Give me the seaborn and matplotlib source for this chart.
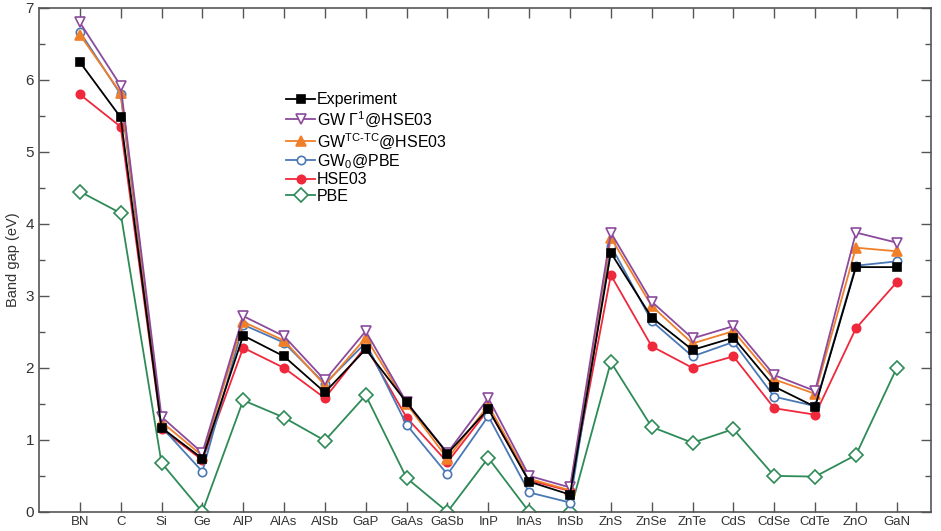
import matplotlib
matplotlib.use('Agg')
import matplotlib.pyplot as plt
import seaborn as sns
from matplotlib.ticker import MultipleLocator

materials = ['BN', 'C', 'Si', 'Ge', 'AlP', 'AlAs', 'AlSb', 'GaP', 'GaAs', 'GaSb', 'InP',
             'InAs', 'InSb', 'ZnS', 'ZnSe', 'ZnTe', 'CdS', 'CdSe', 'CdTe', 'ZnO', 'GaN']

experiment = [6.25, 5.48, 1.17, 0.74, 2.45, 2.16, 1.66, 2.26, 1.52, 0.81, 1.43,
              0.42, 0.24, 3.60, 2.70, 2.25, 2.42, 1.74, 1.46, 3.40, 3.40]
gw_gamma = [6.80, 5.92, 1.32, 0.82, 2.72, 2.44, 1.83, 2.51, 1.52, 0.82, 1.58,
            0.50, 0.34, 3.88, 2.92, 2.41, 2.58, 1.90, 1.68, 3.88, 3.74]
gw_tctc = [6.63, 5.82, 1.25, 0.78, 2.64, 2.38, 1.76, 2.42, 1.50, 0.74, 1.48,
           0.46, 0.30, 3.81, 2.86, 2.34, 2.51, 1.84, 1.64, 3.67, 3.62]
gw0_pbe = [6.67, 5.80, 1.18, 0.56, 2.60, 2.35, 1.78, 2.35, 1.21, 0.52, 1.33,
           0.27, 0.13, 3.70, 2.65, 2.16, 2.36, 1.60, 1.47, 3.42, 3.48]
hse03 = [5.80, 5.35, 1.15, 0.72, 2.28, 2.00, 1.58, 2.30, 1.31, 0.69, 1.42,
         0.44, 0.29, 3.29, 2.30, 2.00, 2.16, 1.44, 1.35, 2.55, 3.19]
pbe = [4.45, 4.15, 0.68, 0.00, 1.55, 1.31, 0.99, 1.62, 0.47, 0.00, 0.75,
       0.00, 0.00, 2.08, 1.18, 0.96, 1.15, 0.50, 0.49, 0.79, 2.00]

plt.rcParams['font.family'] = ['Liberation Sans', 'DejaVu Sans']
plt.rcParams['mathtext.fontset'] = 'custom'
plt.rcParams['mathtext.rm'] = 'Liberation Sans'
plt.rcParams['mathtext.it'] = 'Liberation Sans'

fig = plt.figure(figsize=(9.41, 5.31), dpi=100)
ax = fig.add_axes([0.0414, 0.036, 0.9485, 0.949])

xs = list(range(len(materials)))

# (values, label, color, marker, filled, size)
series = [
    (pbe, 'PBE', '#2e8b57', 'D', False, 7.5),
    (hse03, 'HSE03', '#f0283c', 'o', True, 6),
    (gw0_pbe, 'GW$_0$@PBE', '#4a78b5', 'o', False, 6),
    (gw_tctc, 'GW$^{\\mathrm{TC\\text{-}TC}}$@HSE03', '#f07f2a', '^', True, 6.5),
    (gw_gamma, 'GW \u0393$^1$@HSE03', '#8b4a9c', 'v', False, 6.5),
    (experiment, 'Experiment', '#000000', 's', True, 6),
]

for vals, label, color, marker, filled, size in series:
    sns.lineplot(x=xs, y=vals, ax=ax, color=color, marker=marker, markersize=size,
                 markerfacecolor=color if filled else 'white', markeredgecolor=color,
                 markeredgewidth=1.2, linewidth=1.3, sort=False, label=label)

h, l = ax.get_legend_handles_labels()
order = ['Experiment', 'GW \u0393$^1$@HSE03', 'GW$^{\\mathrm{TC\\text{-}TC}}$@HSE03',
         'GW$_0$@PBE', 'HSE03', 'PBE']
lookup = dict(zip(l, h))
ax.legend([lookup[k] for k in order], order, loc='upper left', bbox_to_anchor=(0.27, 0.845),
          frameon=False, fontsize=11.5, handlelength=1.8, handletextpad=0.1,
          labelspacing=0.1, borderaxespad=0)

ax.set_xlim(-1, 20.85)
ax.set_ylim(0, 7)
ax.set_xticks(xs)
ax.set_xticklabels(materials)
ax.yaxis.set_major_locator(MultipleLocator(1))
ax.yaxis.set_minor_locator(MultipleLocator(0.5))
ax.tick_params(axis='both', which='both', direction='in', top=True, right=True,
               colors='#555555', labelcolor='#333333')
ax.tick_params(axis='both', which='major', length=7, width=1)
ax.tick_params(axis='y', which='minor', length=4, width=1)
ax.tick_params(axis='x', labelsize=9.5, pad=3)
ax.tick_params(axis='y', labelsize=11)
for s in ax.spines.values():
    s.set_color('#555555')
    s.set_linewidth(1.2)
ax.set_ylabel('Band gap (eV)', fontsize=10.5, color='#333333', labelpad=4)

plt.savefig('out.png', dpi=100)
